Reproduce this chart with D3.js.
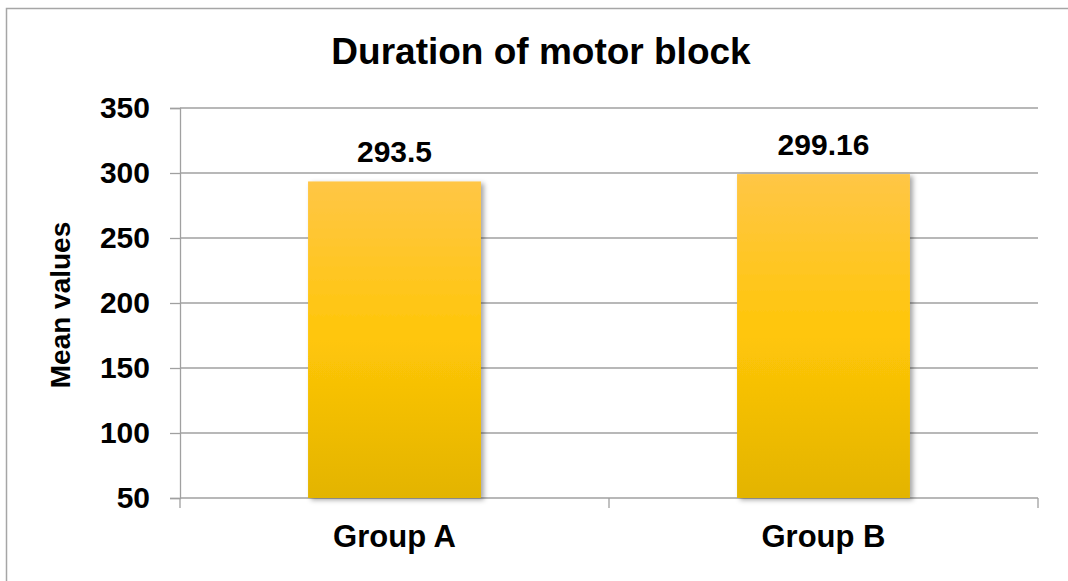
<!DOCTYPE html>
<html>
<head>
<meta charset="utf-8">
<script src="https://cdn.jsdelivr.net/npm/d3@7"></script>
<style>
  body { margin: 0; background: #fff; }
  text { font-family: "Liberation Sans", Arial, sans-serif; font-weight: bold; fill: #000; }
</style>
</head>
<body>
<div id="chart"></div>
<script>
// Duration of motor block: mean values by group

var groups = ["Group A", "Group B"];
var meanValues = [293.5, 299.16];
var yTicks = [50, 100, 150, 200, 250, 300, 350];

var svgWidth = 1068;
var svgHeight = 581;

var margin = { top: 108, right: 30, bottom: 83, left: 180 };
var width = 1038 - margin.left;
var height = 498 - margin.top;

var svg = d3.select("#chart")
  .append("svg")
  .attr("width", svgWidth)
  .attr("height", svgHeight);

var defs = svg.append("defs");

var grad = defs.append("linearGradient")
  .attr("id", "barFill")
  .attr("x1", 0).attr("y1", 0).attr("x2", 0).attr("y2", 1);
grad.append("stop").attr("offset", "0%").attr("stop-color", "#ffc646");
grad.append("stop").attr("offset", "50%").attr("stop-color", "#ffc608");
grad.append("stop").attr("offset", "100%").attr("stop-color", "#e3b400");

var shadow = defs.append("filter")
  .attr("id", "barShadow")
  .attr("x", "-10%").attr("y", "-10%").attr("width", "130%").attr("height", "120%");
shadow.append("feDropShadow")
  .attr("dx", 3).attr("dy", 2)
  .attr("stdDeviation", 2.5)
  .attr("flood-color", "#000")
  .attr("flood-opacity", 0.35);

// outer chart border (only top and left are visible in the frame)
svg.append("rect")
  .attr("x", 6.5)
  .attr("y", 8.5)
  .attr("width", 1100)
  .attr("height", 600)
  .attr("fill", "none")
  .attr("stroke", "#a6a6a6")
  .attr("stroke-width", 1.5);

var chartGroup = svg.append("g")
  .attr("transform", `translate(${margin.left}, ${margin.top})`);

var xScale = d3.scaleBand()
  .domain(groups)
  .range([0, width])
  .padding(0);

var yScale = d3.scaleLinear()
  .domain([50, 350])
  .range([height, 0]);

// gridlines
chartGroup.append("g")
  .selectAll("line")
  .data(yTicks.slice(1))
  .enter()
  .append("line")
  .attr("x1", 0)
  .attr("x2", width)
  .attr("y1", d => yScale(d))
  .attr("y2", d => yScale(d))
  .attr("stroke", "#a0a0a0")
  .attr("stroke-width", 1.3);

// y axis
var leftAxis = d3.axisLeft(yScale)
  .tickValues(yTicks)
  .tickSize(10)
  .tickPadding(20)
  .tickFormat(d3.format("d"));

var yAxisG = chartGroup.append("g").call(leftAxis);
yAxisG.select(".domain").attr("stroke", "#a0a0a0").attr("stroke-width", 1.3);
yAxisG.selectAll(".tick line").attr("stroke", "#a0a0a0").attr("stroke-width", 1.3);
yAxisG.selectAll(".tick text")
  .style("font-size", "30px")
  .style("font-family", "'Liberation Sans', Arial, sans-serif")
  .style("font-weight", "bold")
  .attr("fill", "#000");

// x axis
var xTickPositions = [0, width / 2, width];
var xAxisG = chartGroup.append("g")
  .attr("transform", `translate(0, ${height})`);
xAxisG.append("line")
  .attr("x1", 0).attr("x2", width)
  .attr("y1", 0).attr("y2", 0)
  .attr("stroke", "#a0a0a0").attr("stroke-width", 1.3);
xAxisG.selectAll(".xtick")
  .data(xTickPositions)
  .enter()
  .append("line")
  .attr("class", "xtick")
  .attr("x1", d => d).attr("x2", d => d)
  .attr("y1", 0).attr("y2", 10)
  .attr("stroke", "#a0a0a0").attr("stroke-width", 1.3);
xAxisG.selectAll(".xlabel")
  .data(groups)
  .enter()
  .append("text")
  .attr("class", "xlabel")
  .attr("x", d => xScale(d) + xScale.bandwidth() / 2)
  .attr("y", 49)
  .attr("text-anchor", "middle")
  .style("font-size", "31px")
  .text(d => d);

// bars
var barWidth = xScale.bandwidth() * 0.403;
chartGroup.selectAll(".bar")
  .data(groups)
  .enter()
  .append("rect")
  .attr("class", "bar")
  .attr("x", d => xScale(d) + (xScale.bandwidth() - barWidth) / 2)
  .attr("y", (d, i) => yScale(meanValues[i]))
  .attr("width", barWidth)
  .attr("height", (d, i) => height - yScale(meanValues[i]))
  .attr("fill", "url(#barFill)")
  .attr("filter", "url(#barShadow)");

// value labels
chartGroup.selectAll(".value")
  .data(groups)
  .enter()
  .append("text")
  .attr("class", "value")
  .attr("x", d => xScale(d) + xScale.bandwidth() / 2)
  .attr("y", (d, i) => yScale(meanValues[i]) - 19)
  .attr("text-anchor", "middle")
  .style("font-size", "30px")
  .text((d, i) => meanValues[i]);

// title
svg.append("text")
  .attr("x", 541)
  .attr("y", 64)
  .attr("text-anchor", "middle")
  .style("font-size", "37px")
  .text("Duration of motor block");

// y axis label
svg.append("text")
  .attr("transform", "rotate(-90)")
  .attr("x", -305)
  .attr("y", 70)
  .attr("text-anchor", "middle")
  .style("font-size", "28px")
  .text("Mean values");
</script>
</body>
</html>
